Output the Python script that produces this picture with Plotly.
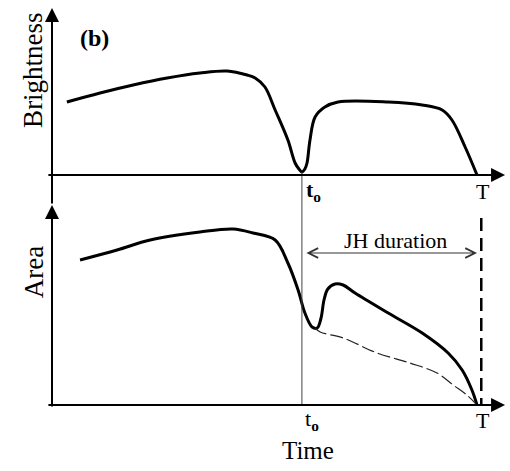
import plotly.graph_objects as go

# ---- schematic data (time in arbitrary units, T = 10) ----
T0 = 5.88          # onset time t_o
T_END = 10.0       # end time T
T_MARK = 10.1      # dashed marker at the end of the JH interval

# Brightness curve
bright_t = [0.35, 1.13, 1.91, 2.71, 3.48, 4.12, 4.59, 4.78, 5.01, 5.25, 5.55,
            5.72, 5.81, 5.88, 5.95, 6.00, 6.07, 6.19, 6.42, 6.73, 7.91, 8.71,
            9.18, 9.41, 9.72, 10.0]
bright_v = [0.73, 0.82, 0.90, 0.97, 1.02, 1.04, 1.00, 0.97, 0.88, 0.65, 0.35,
            0.12, 0.06, 0.03, 0.06, 0.12, 0.35, 0.58, 0.68, 0.73, 0.73, 0.70,
            0.65, 0.55, 0.28, 0.0]

# Area curve
area_t = [0.66, 1.53, 2.31, 3.48, 4.26, 4.73, 5.25, 5.55, 5.79, 5.95, 6.12,
          6.24, 6.33, 6.40, 6.49, 6.66, 6.85, 7.13, 7.91, 8.71, 9.32, 9.65,
          9.88, 10.0]
area_v = [1.45, 1.55, 1.65, 1.73, 1.76, 1.72, 1.65, 1.42, 1.15, 0.92, 0.78,
          0.77, 0.87, 1.05, 1.16, 1.21, 1.20, 1.12, 0.92, 0.72, 0.52, 0.35,
          0.15, 0.0]

# Area trend without the JH bump
base_t = [6.19, 6.31, 6.85, 7.65, 8.42, 9.06, 9.44, 9.76, 10.0]
base_v = [0.77, 0.73, 0.67, 0.52, 0.42, 0.32, 0.20, 0.10, 0.0]

# Axis extents
X_RANGE = [-1.2235, 10.776]
B_RANGE = [-2.96, 1.75]      # brightness axis (upper panel)
A_RANGE = [-0.66, 4.05]      # area axis (lower panel)
X_START = -0.12
X_TIP = 10.66
B_TIP = 1.67
A_TIP = 2.0
# area value expressed on the brightness axis (both share the same pixel scale)
A_TO_B = B_RANGE[0] - A_RANGE[0]

SERIF = "Liberation Serif"

fig = go.Figure()
fig.add_trace(go.Scatter(x=bright_t, y=bright_v, mode="lines",
                         line=dict(color="black", width=3, shape="spline"),
                         yaxis="y", hoverinfo="skip"))
fig.add_trace(go.Scatter(x=area_t, y=area_v, mode="lines",
                         line=dict(color="black", width=3, shape="spline"),
                         yaxis="y2", hoverinfo="skip"))
fig.add_trace(go.Scatter(x=base_t, y=base_v, mode="lines",
                         line=dict(color="#222", width=1.2, dash="13px,4px",
                                   shape="spline"),
                         yaxis="y2", hoverinfo="skip"))

shapes = [
    # t_o guide line through both panels
    dict(type="line", xref="x", yref="y", x0=T0, x1=T0, y0=0.03,
         y1=0 + A_TO_B, line=dict(color="#444", width=1)),
    # end of JH interval
    dict(type="line", xref="x", yref="y2", x0=T_MARK, x1=T_MARK, y0=1.87,
         y1=0.0, line=dict(color="black", width=2.5, dash="13px,7px")),
]


def axis_arrow(x, y, ax, ay, yref):
    # axis line with a filled arrowhead at its far end
    return dict(x=x, y=y, ax=ax, ay=ay, xref="x", yref=yref, axref="x",
                ayref=yref, text="", showarrow=True, arrowhead=2,
                arrowsize=1.4, arrowwidth=2, arrowcolor="black", standoff=0)


text_font = dict(family=SERIF, color="black")

annotations = [
    axis_arrow(0, B_TIP, 0, -0.30, "y"),
    axis_arrow(0, A_TIP, 0, -0.03, "y2"),
    axis_arrow(X_TIP, 0, X_START, 0, "y"),
    axis_arrow(X_TIP, 0, X_START, 0, "y2"),
    # JH duration double arrow
    dict(x=T_END, y=1.52, ax=T0 + 0.07, ay=1.52, xref="x", yref="y2",
         axref="x", ayref="y2", text="", showarrow=True, arrowside="end+start",
         arrowhead=5, startarrowhead=5, arrowsize=1.9, startarrowsize=1.9,
         arrowwidth=1, arrowcolor="#333", standoff=0, startstandoff=0),
    dict(x=8.09, y=1.65, xref="x", yref="y2", text="JH duration",
         showarrow=False, font=dict(text_font, size=22)),
    dict(x=1.01, y=1.37, xref="x", yref="y", text="<b>(b)</b>",
         showarrow=False, font=dict(text_font, size=24)),
    dict(x=-0.45, y=1.05, xref="x", yref="y", text="Brightness", textangle=-90,
         showarrow=False, font=dict(text_font, size=27)),
    dict(x=-0.42, y=1.33, xref="x", yref="y2", text="Area", textangle=-90,
         showarrow=False, font=dict(text_font, size=27)),
    dict(x=T0 + 0.05, y=-0.16, xref="x", yref="y", xanchor="left",
         text="<b>t</b><sub><b>o</b></sub>", showarrow=False,
         font=dict(text_font, size=22)),
    dict(x=T_END + 0.14, y=-0.16, xref="x", yref="y", text="T",
         showarrow=False, font=dict(text_font, size=22)),
    dict(x=T0 + 0.03, y=-0.15, xref="x", yref="y2", xanchor="left",
         text="t<sub><b>o</b></sub>", showarrow=False,
         font=dict(text_font, size=22)),
    dict(x=T_END + 0.14, y=-0.15, xref="x", yref="y2", text="T",
         showarrow=False, font=dict(text_font, size=22)),
    dict(x=T0 + 0.14, y=-0.45, xref="x", yref="y2", text="Time",
         showarrow=False, font=dict(text_font, size=25)),
]

fig.update_layout(
    width=510, height=471,
    margin=dict(l=0, r=0, t=0, b=0),
    paper_bgcolor="white", plot_bgcolor="white",
    showlegend=False,
    xaxis=dict(range=X_RANGE, visible=False, domain=[0, 1]),
    yaxis=dict(range=B_RANGE, visible=False, domain=[0, 1]),
    yaxis2=dict(range=A_RANGE, visible=False, overlaying="y"),
    shapes=shapes,
    annotations=annotations,
)

fig.write_html("out.html")
